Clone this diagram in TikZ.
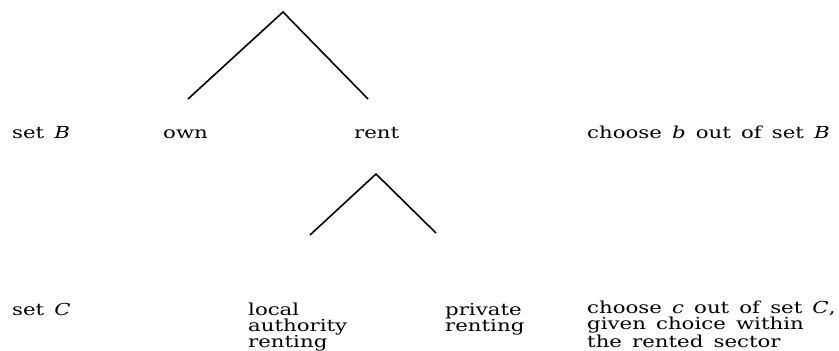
\documentclass[tikz,border=0pt]{standalone}
\usepackage{fontspec}
\setmainfont{DejaVu Serif}[FakeStretch=1.29, WordSpace=1.5]
\begin{document}
\begin{tikzpicture}[x=1pt,y=-1pt,
  lbl/.style={inner sep=0pt, anchor=base west, align=left, font=\fontsize{16.5}{16}\selectfont},
  branch/.style={line width=1.6pt}]
\useasboundingbox (0,0) rectangle (839,351);
% top tree
\coordinate (a1) at (283,12);
\coordinate (a1l) at (188,99);
\coordinate (a1r) at (368,99);
\draw[branch] (a1l) -- (a1) -- (a1r);
% second tree
\coordinate (a2) at (376,174);
\coordinate (a2l) at (310,235);
\coordinate (a2r) at (436,233);
\draw[branch] (a2l) -- (a2) -- (a2r);
% row 1
\node[lbl] (setB) at (12,138) {set \textit{B}};
\node[lbl] (own) at (163,138) {own};
\node[lbl] (rent) at (354,138) {rent};
\node[lbl] (chooseB) at (587,138) {choose \textit{b} out of set \textit{B}};
% row 2 (base anchor = baseline of last line)
\node[lbl] (setC) at (12,315) {set \textit{C}};
\node[lbl] (local) at (248,347) {local\\authority\\renting};
\node[lbl] (private) at (445,331) {private\\renting};
\node[lbl] (chooseC) at (587,347) {choose \textit{c} out of set \textit{C},\\given choice within\\the rented sector};
\end{tikzpicture}
\end{document}
